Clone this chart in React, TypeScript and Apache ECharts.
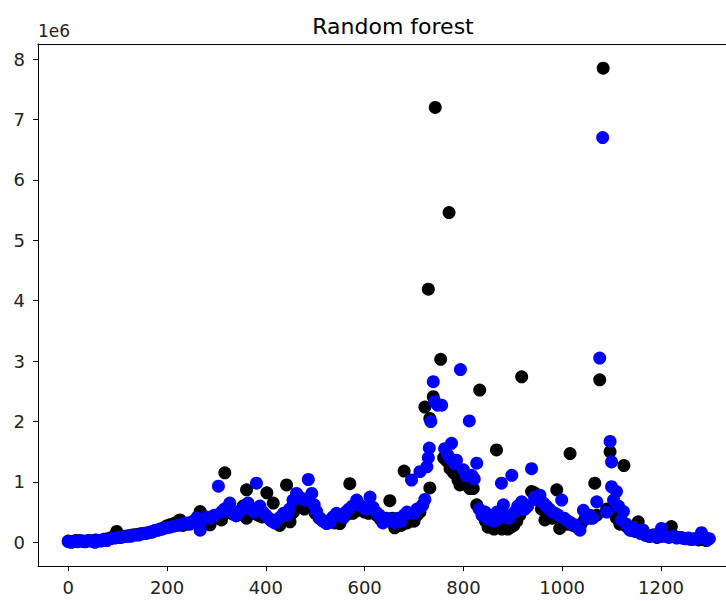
import React, { useEffect, useRef } from "react";
import * as echarts from "echarts";

// values in units of 1e6
const actual: [number, number][] = [
  [0,0.02],[8,0.01],[16,0.03],[24,0.02],[32,0.01],[40,0.03],[48,0.02],[56,0.04],[64,0.03],[72,0.05],[80,0.06],[88,0.08],[98,0.18],[106,0.08],[114,0.1],[122,0.11],[130,0.12],[138,0.13],[146,0.14],[154,0.15],[162,0.16],[170,0.17],[178,0.2],[186,0.22],[194,0.24],[199,0.27],[206,0.29],[214,0.31],[222,0.34],[226,0.37],[232,0.28],[240,0.3],[248,0.33],[256,0.36],[262,0.42],[267,0.51],[274,0.38],[280,0.33],[287,0.29],[294,0.4],[300,0.45],[310,0.37],[317,1.15],[324,0.5],[332,0.47],[340,0.44],[348,0.52],[354,0.6],[361,0.87],[361,0.4],[368,0.55],[376,0.5],[384,0.45],[392,0.42],[402,0.82],[408,0.38],[415,0.65],[420,0.32],[428,0.28],[436,0.38],[442,0.95],[449,0.34],[456,0.5],[462,0.62],[470,0.65],[478,0.55],[486,0.7],[494,0.58],[500,0.48],[508,0.4],[516,0.35],[524,0.33],[532,0.38],[540,0.32],[550,0.31],[556,0.4],[562,0.45],[570,0.97],[576,0.48],[584,0.52],[592,0.55],[600,0.5],[608,0.48],[616,0.52],[624,0.45],[632,0.38],[640,0.35],[651,0.69],[656,0.4],[661,0.24],[668,0.3],[674,0.28],[680,1.18],[686,0.32],[692,0.4],[700,0.35],[706,0.45],[712,0.5],[718,0.62],[722,2.24],[729,4.19],[732,0.9],[732,2.05],[739,2.41],[743,7.2],[754,3.03],[760,1.4],[766,1.35],[771,5.46],[773,1.22],[780,1.15],[789,1.03],[793,0.95],[800,1.0],[806,0.95],[813,0.89],[820,0.89],[827,0.62],[833,2.52],[838,0.45],[845,0.35],[850,0.25],[856,0.3],[862,0.22],[867,1.53],[872,0.28],[878,0.22],[884,0.3],[890,0.22],[896,0.25],[902,0.28],[908,0.35],[914,0.45],[918,2.74],[924,0.55],[930,0.6],[938,0.84],[944,0.82],[950,0.75],[958,0.55],[965,0.37],[972,0.45],[980,0.4],[989,0.87],[995,0.23],[1002,0.35],[1010,0.3],[1016,1.47],[1022,0.28],[1030,0.25],[1038,0.3],[1046,0.38],[1052,0.42],[1058,0.4],[1066,0.98],[1070,0.45],[1076,2.69],[1083,7.85],[1090,0.55],[1097,1.5],[1103,0.59],[1110,0.4],[1117,0.3],[1125,1.27],[1132,0.25],[1140,0.2],[1148,0.18],[1154,0.34],[1160,0.15],[1168,0.12],[1176,0.1],[1184,0.12],[1192,0.08],[1200,0.1],[1208,0.12],[1214,0.15],[1221,0.26],[1228,0.1],[1236,0.08],[1244,0.07],[1252,0.06],[1260,0.05],[1268,0.06],[1276,0.04],[1284,0.05],[1292,0.03]
];

const predicted: [number, number][] = [
  [0,0.01],[6,0.0],[12,0.02],[18,0.01],[24,0.03],[30,0.02],[36,0.01],[42,0.03],[48,0.02],[54,0.0],[60,0.03],[66,0.02],[72,0.04],[78,0.03],[86,0.06],[94,0.07],[102,0.08],[110,0.09],[118,0.1],[126,0.1],[134,0.12],[142,0.12],[150,0.14],[158,0.15],[166,0.17],[174,0.19],[182,0.2],[190,0.22],[198,0.24],[206,0.25],[214,0.27],[222,0.28],[230,0.3],[238,0.32],[246,0.3],[254,0.35],[260,0.4],[267,0.2],[272,0.38],[280,0.42],[288,0.4],[296,0.45],[304,0.93],[310,0.5],[316,0.55],[322,0.58],[327,0.65],[334,0.48],[340,0.44],[346,0.5],[352,0.55],[358,0.6],[364,0.65],[370,0.55],[376,0.5],[381,0.98],[388,0.6],[394,0.5],[400,0.45],[406,0.4],[412,0.35],[418,0.32],[424,0.38],[430,0.42],[436,0.48],[442,0.45],[448,0.55],[455,0.7],[462,0.81],[468,0.75],[474,0.72],[480,0.7],[486,1.04],[493,0.81],[498,0.62],[503,0.51],[510,0.4],[516,0.35],[523,0.31],[530,0.33],[536,0.42],[543,0.48],[550,0.45],[556,0.42],[562,0.5],[568,0.55],[575,0.6],[584,0.7],[590,0.62],[596,0.58],[602,0.55],[611,0.75],[617,0.58],[623,0.5],[630,0.45],[637,0.32],[644,0.4],[650,0.35],[656,0.38],[662,0.33],[668,0.4],[674,0.35],[680,0.45],[686,0.5],[695,1.03],[700,0.48],[706,0.55],[712,1.17],[716,0.6],[722,0.71],[726,1.25],[729,1.4],[731,1.56],[734,2.0],[739,2.66],[742,2.33],[748,2.27],[756,2.27],[762,1.55],[768,1.45],[773,1.39],[776,1.64],[782,1.3],[786,1.36],[794,2.86],[800,1.2],[806,1.1],[812,2.01],[817,1.11],[822,1.05],[827,1.31],[832,0.55],[838,0.45],[844,0.5],[850,0.38],[856,0.42],[862,0.35],[868,0.5],[872,0.4],[877,0.98],[881,0.62],[886,0.45],[892,0.4],[898,1.11],[904,0.5],[910,0.6],[918,0.67],[924,0.55],[930,0.6],[938,1.22],[944,0.75],[950,0.7],[955,0.78],[962,0.65],[968,0.6],[974,0.55],[980,0.5],[986,0.48],[992,0.45],[999,0.7],[1004,0.4],[1010,0.36],[1016,0.33],[1022,0.3],[1028,0.28],[1036,0.2],[1043,0.53],[1050,0.4],[1056,0.45],[1062,0.4],[1070,0.67],[1076,3.05],[1082,6.7],[1090,0.5],[1097,1.67],[1100,1.33],[1100,0.92],[1104,0.7],[1110,0.84],[1114,0.6],[1120,0.37],[1124,0.51],[1130,0.3],[1137,0.2],[1144,0.25],[1150,0.18],[1158,0.15],[1164,0.2],[1170,0.12],[1178,0.1],[1186,0.12],[1194,0.09],[1201,0.23],[1208,0.1],[1216,0.08],[1224,0.1],[1232,0.07],[1240,0.08],[1248,0.06],[1256,0.07],[1264,0.05],[1272,0.06],[1282,0.16],[1288,0.08],[1294,0.04],[1298,0.06]
];

const xTicks = [0, 200, 400, 600, 800, 1000, 1200];
const yTicks = [0, 1, 2, 3, 4, 5, 6, 7, 8];
const titleText = "Random forest";
const offsetText = "1e6";

const X_MIN = -61.3;
const X_MAX = 1331.7;
const Y_MIN = -0.392;
const Y_MAX = 8.25;

export default function App() {
  const ref = useRef<HTMLDivElement>(null);
  useEffect(() => {
    if (!ref.current) return;
    const chart = echarts.init(ref.current, null, { renderer: "svg" });
    const font = "DejaVu Sans";
    const line = { color: "#000", width: 1 };
    chart.setOption({
      animation: false,
      backgroundColor: "#fff",
      title: {
        text: titleText,
        left: 388,
        top: 10,
        textAlign: "center",
        textStyle: { fontFamily: font, fontSize: 22, fontWeight: "normal", color: "#000" },
      },
      graphic: [
        {
          type: "text",
          left: 38,
          top: 22,
          style: { text: offsetText, font: `17px ${font}`, fill: "#222" },
        },
      ],
      grid: {
        left: 38,
        top: 44,
        right: 0,
        bottom: 35,
        show: false,
        containLabel: false,
      },
      xAxis: [
        {
          type: "value",
          position: "bottom",
          min: X_MIN,
          max: X_MAX,
          splitLine: { show: false },
          axisLine: { show: true, onZero: false, lineStyle: line },
          axisTick: { show: true, length: 5, customValues: xTicks, lineStyle: { color: "#000" } },
          axisLabel: {
            customValues: xTicks,
            formatter: (v: number) => String(v),
            fontFamily: font,
            fontSize: 18,
            color: "#222",
            margin: 12,
          },
        },
        {
          type: "value",
          position: "top",
          min: X_MIN,
          max: X_MAX,
          splitLine: { show: false },
          axisLine: { show: true, onZero: false, lineStyle: line },
          axisTick: { show: false },
          axisLabel: { show: false },
        },
      ],
      yAxis: {
        type: "value",
        min: Y_MIN,
        max: Y_MAX,
        splitLine: { show: false },
        axisLine: { show: true, onZero: false, lineStyle: line },
        axisTick: { show: true, length: 5, customValues: yTicks, lineStyle: { color: "#000" } },
        axisLabel: {
          customValues: yTicks,
          formatter: (v: number) => String(v),
          fontFamily: font,
          fontSize: 18,
          color: "#222",
          margin: 13,
        },
      },
      series: [
        {
          type: "scatter",
          name: "actual",
          xAxisIndex: 0,
          data: actual,
          symbolSize: 13,
          itemStyle: { color: "#000000", opacity: 1 },
        },
        {
          type: "scatter",
          name: "predicted",
          xAxisIndex: 0,
          data: predicted,
          symbolSize: 13,
          itemStyle: { color: "#0000ff", opacity: 1 },
        },
      ],
    });
    return () => chart.dispose();
  }, []);
  return (
    <div
      ref={ref}
      style={{ position: "fixed", left: 0, top: 0, width: 726, height: 601 }}
    />
  );
}
